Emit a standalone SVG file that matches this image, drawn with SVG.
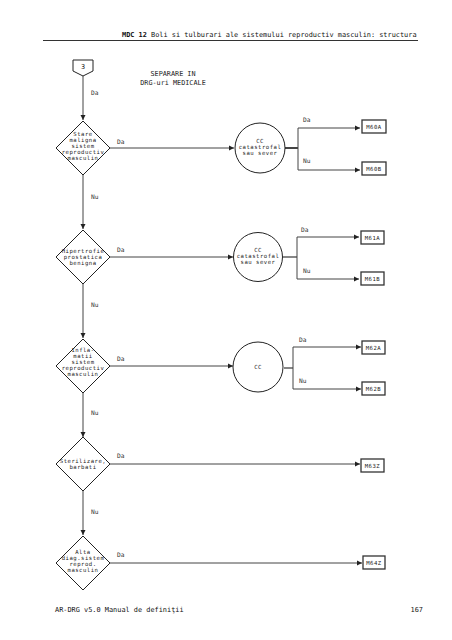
<svg xmlns="http://www.w3.org/2000/svg" width="452" height="640" viewBox="0 0 452 640">
<defs>
<marker id="ah" markerWidth="6" markerHeight="6" refX="5" refY="3" orient="auto" markerUnits="userSpaceOnUse"><path d="M0,0.5 L5,3 L0,5.5 Z" fill="#222"/></marker>
<style>
.t{font-family:"DejaVu Sans Mono","Liberation Mono",monospace;font-size:6.8px;fill:#222}
.n{font-family:"DejaVu Sans Mono","Liberation Mono",monospace;font-size:5.6px;letter-spacing:0.5px;fill:#222;text-anchor:middle}
.c{text-anchor:middle}
.l{font-family:"DejaVu Sans Mono","Liberation Mono",monospace;font-size:6.2px;fill:#333}
.s{fill:#fff;stroke:#222;stroke-width:1}
.b{fill:#fff;stroke:#333;stroke-width:1.3}
.e{fill:none;stroke:#444;stroke-width:1}
.h{font-family:"DejaVu Sans Mono","Liberation Mono",monospace;font-size:6.9px;fill:#111}
</style>
</defs>
<rect width="452" height="640" fill="#fff"/>
<g id="header">
<text class="h" x="122" y="37"><tspan font-weight="bold">MDC 12</tspan> Boli si tulburari ale sistemului reproductiv masculin: structura</text>
<line x1="43" y1="40.5" x2="418" y2="40.5" stroke="#333" stroke-width="1"/>
</g>
<g id="title"><text class="t c" x="173" y="76">SEPARARE IN</text><text class="t c" x="173" y="85">DRG-uri MEDICALE</text></g>
<g id="connectors">
<line class="e" x1="83" y1="76" x2="83" y2="120" marker-end="url(#ah)"/>
<line class="e" x1="110" y1="148" x2="234" y2="148" marker-end="url(#ah)"/>
<line x1="285" y1="148" x2="298" y2="148" stroke="#444" stroke-width="2"/>
<line class="e" x1="298" y1="128" x2="298" y2="170"/>
<line class="e" x1="298" y1="128" x2="360" y2="128" marker-end="url(#ah)"/>
<line class="e" x1="298" y1="170" x2="360" y2="170" marker-end="url(#ah)"/>
<line class="e" x1="83" y1="175" x2="83" y2="229" marker-end="url(#ah)"/>
<line class="e" x1="110" y1="257" x2="233" y2="257" marker-end="url(#ah)"/>
<line x1="283" y1="257" x2="297" y2="257" stroke="#444" stroke-width="1.3"/>
<line class="e" x1="297" y1="237" x2="297" y2="279"/>
<line class="e" x1="297" y1="237" x2="359" y2="237" marker-end="url(#ah)"/>
<line class="e" x1="297" y1="279" x2="359" y2="279" marker-end="url(#ah)"/>
<line class="e" x1="83" y1="284" x2="83" y2="338" marker-end="url(#ah)"/>
<line class="e" x1="110" y1="366" x2="233" y2="366" marker-end="url(#ah)"/>
<line x1="284" y1="368" x2="293" y2="368" stroke="#444" stroke-width="1.3"/>
<line class="e" x1="293" y1="347" x2="293" y2="389"/>
<line class="e" x1="293" y1="347" x2="361" y2="347" marker-end="url(#ah)"/>
<line class="e" x1="293" y1="389" x2="361" y2="389" marker-end="url(#ah)"/>
<line class="e" x1="83" y1="393" x2="83" y2="437" marker-end="url(#ah)"/>
<line class="e" x1="110" y1="464" x2="360" y2="464" marker-end="url(#ah)"/>
<line class="e" x1="83" y1="491" x2="83" y2="535" marker-end="url(#ah)"/>
<line class="e" x1="110" y1="563" x2="362" y2="563" marker-end="url(#ah)"/>
</g>
<g id="labels">
<text class="l" x="91" y="95">Da</text>
<text class="l" x="117" y="144">Da</text>
<text class="l" x="303" y="122">Da</text>
<text class="l" x="303" y="163">Nu</text>
<text class="l" x="91" y="199">Nu</text>
<text class="l" x="117" y="252">Da</text>
<text class="l" x="301" y="232">Da</text>
<text class="l" x="303" y="273">Nu</text>
<text class="l" x="91" y="307">Nu</text>
<text class="l" x="117" y="361">Da</text>
<text class="l" x="299" y="342">Da</text>
<text class="l" x="299" y="383">Nu</text>
<text class="l" x="91" y="415">Nu</text>
<text class="l" x="117" y="458">Da</text>
<text class="l" x="91" y="514">Nu</text>
<text class="l" x="117" y="557">Da</text>
</g>
<g id="start"><path class="s" d="M73,60 H93 V71 L83,76 L73,71 Z"/><text class="t c" x="83" y="69">3</text></g>
<g id="d1"><path class="s" d="M83,121 L110,148 L83,175 L56,148 Z"/>
<text class="n" x="83" y="135.5">Stare</text><text class="n" x="83" y="141.5">maligna</text><text class="n" x="83" y="147.5">sistem</text><text class="n" x="83" y="153.5">reproductiv</text><text class="n" x="83" y="159.5">masculin</text></g>
<g id="c1"><circle class="s" cx="260" cy="148" r="25"/><text class="n" x="260" y="143">CC</text><text class="n" x="260" y="149">catastrofal</text><text class="n" x="260" y="155">sau sever</text></g>
<g id="m60a"><rect class="b" x="362" y="120" width="24" height="13"/><text class="n" x="374" y="128.5">M60A</text></g>
<g id="m60b"><rect class="b" x="362" y="162" width="24" height="13"/><text class="n" x="374" y="170.5">M60B</text></g>
<g id="d2"><path class="s" d="M83,230 L110,257 L83,284 L56,257 Z"/>
<text class="n" x="83" y="253">Hipertrofie</text><text class="n" x="83" y="259">prostatica</text><text class="n" x="83" y="265">benigna</text></g>
<g id="c2"><circle class="s" cx="258" cy="257" r="24.5"/><text class="n" x="258" y="252">CC</text><text class="n" x="258" y="258">catastrofal</text><text class="n" x="258" y="264">sau sever</text></g>
<g id="m61a"><rect class="b" x="361" y="231" width="23" height="13"/><text class="n" x="372.5" y="239.5">M61A</text></g>
<g id="m61b"><rect class="b" x="361" y="272" width="23" height="13"/><text class="n" x="372.5" y="280.5">M61B</text></g>
<g id="d3"><path class="s" d="M83,339 L110,366 L83,393 L56,366 Z"/>
<text class="n" x="83" y="352">Infla-</text><text class="n" x="83" y="358">matii</text><text class="n" x="83" y="364">sistem</text><text class="n" x="83" y="370">reproductiv</text><text class="n" x="83" y="376">masculin</text></g>
<g id="c3"><circle class="s" cx="258" cy="367" r="25"/><text class="n" x="258" y="369">CC</text></g>
<g id="m62a"><rect class="b" x="362" y="341" width="23" height="13"/><text class="n" x="373.5" y="349.5">M62A</text></g>
<g id="m62b"><rect class="b" x="362" y="382" width="23" height="13"/><text class="n" x="373.5" y="390.5">M62B</text></g>
<g id="d4"><path class="s" d="M83,437 L110,464 L83,491 L56,464 Z"/>
<text class="n" x="83" y="463">Sterilizare,</text><text class="n" x="83" y="469">barbati</text></g>
<g id="m63z"><rect class="b" x="361" y="459" width="23" height="13"/><text class="n" x="372.5" y="467.5">M63Z</text></g>
<g id="d5"><path class="s" d="M83,536 L110,563 L83,590 L56,563 Z"/>
<text class="n" x="83" y="554">Alta</text><text class="n" x="83" y="560">diag.sistem</text><text class="n" x="83" y="566">reprod.</text><text class="n" x="83" y="572">masculin</text></g>
<g id="m64z"><rect class="b" x="363" y="556" width="22" height="13"/><text class="n" x="374" y="564.5">M64Z</text></g>
<g id="footer"><text class="h" x="55" y="612">AR-DRG v5.0 Manual de definiţii</text><text class="h" x="423" y="612" text-anchor="end">167</text></g>
</svg>
